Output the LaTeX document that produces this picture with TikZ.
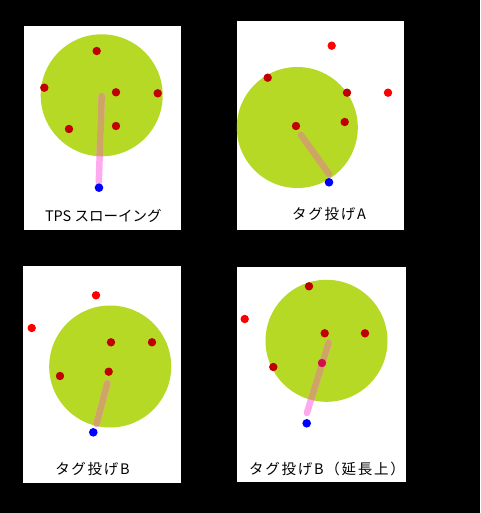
\documentclass[tikz,border=0pt]{standalone}
\usepackage{fontspec}
\newfontfamily\jpfont{Noto Sans CJK JP}
\newfontfamily\jpwide[LetterSpace=12]{Noto Sans CJK JP}
\definecolor{leaf}{HTML}{B5D925}
\definecolor{dred}{HTML}{C00000}
\definecolor{bred}{HTML}{FF0000}
\definecolor{tagblue}{HTML}{0000FF}
\definecolor{tan}{HTML}{CFA565}
\definecolor{pinkstick}{HTML}{FFAAEE}
\definecolor{crim}{HTML}{D01048}
\tikzset{
  panel/.style={fill=white},
  zone/.style={fill=leaf},
  reddot/.style={fill=dred},
  freedot/.style={fill=bred},
  bluedot/.style={fill=tagblue},
  stickout/.style={draw=pinkstick, line width=6.5pt, line cap=round},
  stickin/.style={draw=tan, line width=6.5pt, line cap=round},
  caption/.style={font=\jpfont\fontsize{14.5}{16}\selectfont, text=black, inner sep=0pt},
  widecaption/.style={font=\jpwide\fontsize{14.5}{16}\selectfont, text=black, inner sep=0pt}
}
\begin{document}
\begin{tikzpicture}[x=1pt,y=-1pt]
\fill[black] (0,0) rectangle (480,513);
\useasboundingbox (0,0) rectangle (480,513);
% ---------- Panel 1 ----------
\fill[panel] (24,26) rectangle (181,230);
\fill[zone] (101.7,95.3) circle (61);
\coordinate (s1a) at (101.7,96);
\coordinate (s1b) at (98.8,182);
\draw[stickout] (s1a) -- (s1b);
\begin{scope}
\clip (101.7,95.3) circle (61);
\draw[stickin] (s1a) -- (s1b);
\end{scope}
\foreach \p in {(96.7,51),(44.3,87.7),(116,92.3),(157.7,93.3),(69,129),(116,126)}
  \fill[reddot] \p circle (4.2);
\fill[bluedot] (99,187.7) circle (4.3);
\node[caption] (c1) at (103.3,216) {TPS スローイング};
% ---------- Panel 2 ----------
\fill[panel] (237,21) rectangle (404,230);
\fill[zone] (297.3,127.5) circle (60.5);
\coordinate (s2a) at (301,135);
\coordinate (s2b) at (329,174);
\draw[stickin] (s2a) -- (s2b);
\foreach \p in {(331.7,45.7),(388,92.7)}
  \fill[freedot] \p circle (4.2);
\foreach \p in {(267.7,77.7),(347,92.7),(344.7,122),(296,126)}
  \fill[reddot] \p circle (4.2);
\fill[bluedot] (329,182.3) circle (4.3);
\node[widecaption] (c2) at (329,213.5) {タグ投げA};
% ---------- Panel 3 ----------
\fill[panel] (23,266) rectangle (181,483);
\fill[zone] (110.2,366.5) circle (61);
\coordinate (s3a) at (107.3,383.3);
\coordinate (s3b) at (96.5,424);
\draw[stickout] (s3a) -- (s3b);
\begin{scope}
\clip (110.2,366.5) circle (61);
\draw[stickin] (s3a) -- (s3b);
\end{scope}
\foreach \p in {(96,295.3),(31.7,328)}
  \fill[freedot] \p circle (4.2);
\foreach \p in {(111,342.3),(152,342.3),(60,376),(108.7,371.7)}
  \fill[reddot] \p circle (4.2);
\fill[bluedot] (93.3,432.3) circle (4.3);
\node[widecaption] (c3) at (92.5,469) {タグ投げB};
% ---------- Panel 4 ----------
\fill[panel] (237,267) rectangle (406,482);
\fill[zone] (326.5,340.8) circle (61);
\foreach \p in {(309,286.3),(324.7,333.3),(365,333.3),(273.3,367)}
  \fill[reddot] \p circle (4.2);
\coordinate (s4a) at (328.7,342.5);
\coordinate (s4b) at (306.9,413);
\draw[stickout] (s4a) -- (s4b);
\begin{scope}
\clip (326.5,340.8) circle (61);
\draw[stickin] (s4a) -- (s4b);
\end{scope}
\fill[crim] (322,363) circle (4.2);
\fill[freedot] (244.7,319) circle (4.2);
\fill[bluedot] (306.7,423.3) circle (4.3);
\node[widecaption] (c4) at (327,469) {タグ投げB（延長上）};
\end{tikzpicture}
\end{document}
